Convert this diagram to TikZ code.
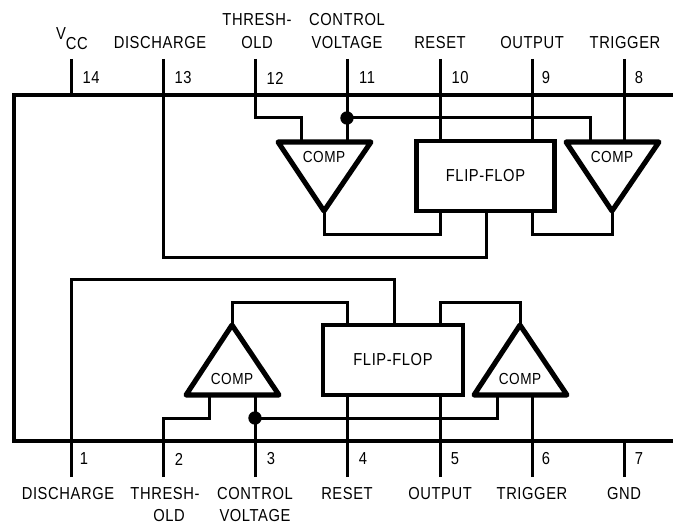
\documentclass[tikz,border=0pt]{standalone}
\usepackage{fontspec}
\setmainfont[FakeStretch=0.85,LetterSpace=3.4]{Liberation Sans}
\tikzset{
  wire/.style={line width=2.25pt,line cap=butt,line join=miter},
  pin/.style={line width=2.25pt,line cap=butt},
  bus/.style={line width=3.2pt,line join=miter},
  tri/.style={line width=3.8pt,line join=round,line cap=round},
  ffbox/.style={draw,line width=3.6pt,rectangle,inner sep=0pt,font=\fontsize{13}{15}\selectfont},
  lbl/.style={anchor=base,inner sep=0pt,font=\fontsize{13}{15}\selectfont},
  num/.style={anchor=center,inner sep=0pt,font=\fontsize{13}{15}\selectfont},
  cmp/.style={anchor=center,inner sep=0pt,font=\fontsize{12}{14}\selectfont},
  dotnode/.style={circle,fill=black,draw=none,minimum size=10pt,inner sep=0pt}
}
\begin{document}
\begin{tikzpicture}[x=0.75pt,y=-0.75pt]
\useasboundingbox (0,0) rectangle (673,524);
% flip-flops
\node[ffbox,minimum width=104pt,minimum height=52.5pt] (ffT) at (485.5,176) {FLIP-FLOP};
\node[ffbox,minimum width=105pt,minimum height=52.5pt] (ffB) at (393,360) {FLIP-FLOP};
% comparator corners
\coordinate (tAl) at (278,142); \coordinate (tAr) at (371,142); \coordinate (tAt) at (324,211);
\coordinate (tBl) at (566,142); \coordinate (tBr) at (659,142); \coordinate (tBt) at (612,211);
\coordinate (bAl) at (186,395); \coordinate (bAr) at (279,395); \coordinate (bAt) at (232,325);
\coordinate (bBl) at (474,395); \coordinate (bBr) at (567,395); \coordinate (bBt) at (520,325);
% pin ends
\foreach \n/\x in {14/71,13/163,12/255,11/347,10/440,9/532,8/624}{
  \coordinate (p\n) at (\x,59); \coordinate (j\n) at (\x,95);}
\foreach \n/\x in {1/71,2/163,3/255,4/347,5/440,6/532,7/624}{
  \coordinate (p\n) at (\x,477); \coordinate (j\n) at (\x,441);}
\foreach \n in {1,...,14}{\draw[pin] (p\n) -- (j\n);}
% package
\coordinate (bTR) at (673,95); \coordinate (bTL) at (14,95);
\coordinate (bBL) at (14,441); \coordinate (bBR) at (673,441);
\draw[bus] (bTR) -- (bTL) -- (bBL) -- (bBR);
% top half wiring
\draw[wire] (j12) |- (301,118) -- (301,141);
\draw[pin] (j11) -- (347,141);
\node[dotnode] (dT) at (347,118) {};
\draw[wire] (dT.center) -| (590,141);
\draw[pin] (j10) -- (440,141);
\draw[pin] (j9) -- (532,141);
\draw[pin] (j8) -- (624,141);
\draw[wire] (tAt) -- (324,234) -| (440,211);
\draw[wire] (486,211) |- (163,257) -- (j13);
\draw[wire] (532,211) |- (612,234) -- (tBt);
% bottom half wiring
\draw[wire] (j1) |- (394,279) -- (394,325);
\draw[wire] (bAt) -- (232,302) -| (347,325);
\draw[wire] (440,325) |- (520,302) -- (bBt);
\draw[wire] (j2) |- (209,418) -- (209,395);
\draw[pin] (j3) -- (255,395);
\node[dotnode] (dB) at (255,418) {};
\draw[wire] (dB.center) -| (497,395);
\draw[pin] (347,395) -- (j4);
\draw[pin] (440,395) -- (j5);
\draw[pin] (532,395) -- (j6);
% comparators
\draw[tri] (tAl) -- (tAr) -- (tAt) -- cycle;
\draw[tri] (tBl) -- (tBr) -- (tBt) -- cycle;
\draw[tri] (bAl) -- (bAr) -- (bAt) -- cycle;
\draw[tri] (bBl) -- (bBr) -- (bBt) -- cycle;
\node[cmp] (c1) at (324,157) {COMP};
\node[cmp] (c2) at (612,157) {COMP};
\node[cmp] (c3) at (232,379) {COMP};
\node[cmp] (c4) at (520,379) {COMP};
% top labels
\node[lbl] (vcc) at (72,39.5) {V\raisebox{-7.5pt}{CC}};
\node[lbl] (l13) at (160,49) {DISCHARGE};
\node[lbl] (l12a) at (257,26) {THRESH-};
\node[lbl] (l12b) at (257,49) {OLD};
\node[lbl] (l11a) at (347,26) {CONTROL};
\node[lbl] (l11b) at (347,49) {VOLTAGE};
\node[lbl] (l10) at (440,49) {RESET};
\node[lbl] (l9) at (532,49) {OUTPUT};
\node[lbl] (l8) at (625,49) {TRIGGER};
\foreach \t/\x in {14/91,13/183,12/275,11/367,10/460,9/546,8/639}{
  \node[num] (n\t) at (\x,78) {\t};}
% bottom labels
\foreach \t/\x in {1/84,2/179,3/271,4/363,5/455,6/546,7/639}{
  \node[num] (n\t) at (\x,459) {\t};}
\node[lbl] (l1) at (68,499) {DISCHARGE};
\node[lbl] (l2a) at (165,499) {THRESH-};
\node[lbl] (l2b) at (169,521) {OLD};
\node[lbl] (l3a) at (255,499) {CONTROL};
\node[lbl] (l3b) at (255,521) {VOLTAGE};
\node[lbl] (l4) at (347,499) {RESET};
\node[lbl] (l5) at (440,499) {OUTPUT};
\node[lbl] (l6) at (532,499) {TRIGGER};
\node[lbl] (l7) at (624,499) {GND};
\end{tikzpicture}
\end{document}
